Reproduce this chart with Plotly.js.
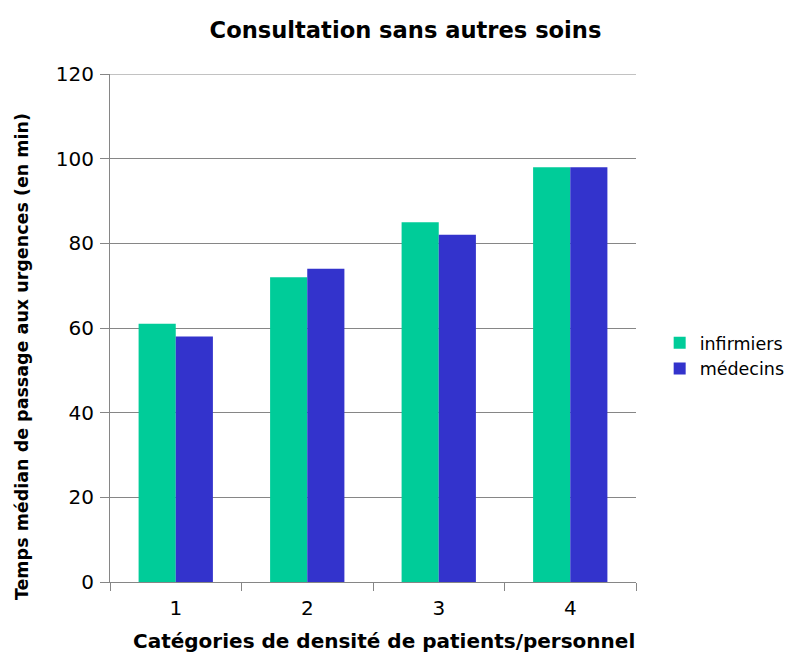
<!DOCTYPE html>
<html>
<head>
<meta charset="utf-8">
<script src="https://cdn.plot.ly/plotly-3.0.1.min.js"></script>
<style>body{margin:0;background:#fff}#chart{width:811px;height:664px}</style>
</head>
<body>
<div id="chart"></div>
<script>
const categories = ["1", "2", "3", "4"];
const infirmiers = [61, 72, 85, 98];
const medecins = [58, 74, 82, 98];
const yTicks = [0, 20, 40, 60, 80, 100, 120];

const FONT = "DejaVu Sans, Verdana, sans-serif";
const GRID = "#868686";

const data = [
  {type: "bar", name: "infirmiers", x: categories, y: infirmiers, marker: {color: "#00CC99"}},
  {type: "bar", name: "médecins", x: categories, y: medecins, marker: {color: "#3333CC"}}
];

const layout = {
  width: 811, height: 664,
  margin: {l: 110, r: 175, t: 74, b: 82},
  paper_bgcolor: "#fff", plot_bgcolor: "#fff",
  font: {family: FONT, color: "#000"},
  title: {text: "<b>Consultation sans autres soins</b>", font: {family: FONT, size: 22.6, color: "#000"}, x: 0.5, xanchor: "center", y: 0.955, yanchor: "middle"},
  barmode: "group", bargap: 0.435, bargroupgap: 0,
  showlegend: true,
  legend: {x: 1.045, y: 0.445, xanchor: "left", yanchor: "middle", font: {family: FONT, size: 17.5, color: "#000"}, tracegroupgap: 0, itemwidth: 30},
  xaxis: {
    type: "category", showline: true, linecolor: GRID, linewidth: 1,
    ticks: "outside", ticklen: 8, tickcolor: GRID, tickson: "boundaries",
    tickfont: {family: FONT, size: 20, color: "#000"}, ticklabelstandoff: 8,
    showgrid: false, zeroline: false
  },
  yaxis: {
    range: [0, 120], tickvals: yTicks, showline: true, linecolor: GRID, linewidth: 1,
    ticks: "outside", ticklen: 9, tickcolor: GRID,
    tickfont: {family: FONT, size: 20, color: "#000"}, ticklabelstandoff: 2,
    showgrid: true, gridcolor: GRID, gridwidth: 1, zeroline: false
  },
  shapes: [
    {type: "line", xref: "paper", yref: "y", x0: 0, x1: 1, y0: yTicks[yTicks.length - 1], y1: yTicks[yTicks.length - 1], line: {color: GRID, width: 1}}
  ],
  annotations: [
    {text: "<b>Temps médian de passage aux urgences (en min)</b>", xref: "paper", yref: "paper", x: -0.167, y: 0.443, xanchor: "center", yanchor: "middle", textangle: -90, showarrow: false, font: {family: FONT, size: 17.5, color: "#000"}},
    {text: "<b>Catégories de densité de patients/personnel</b>", xref: "paper", yref: "paper", x: 0.52, y: -0.116, xanchor: "center", yanchor: "middle", showarrow: false, font: {family: FONT, size: 20, color: "#000"}}
  ]
};

Plotly.newPlot("chart", data, layout, {displayModeBar: false});
</script>
</body>
</html>
